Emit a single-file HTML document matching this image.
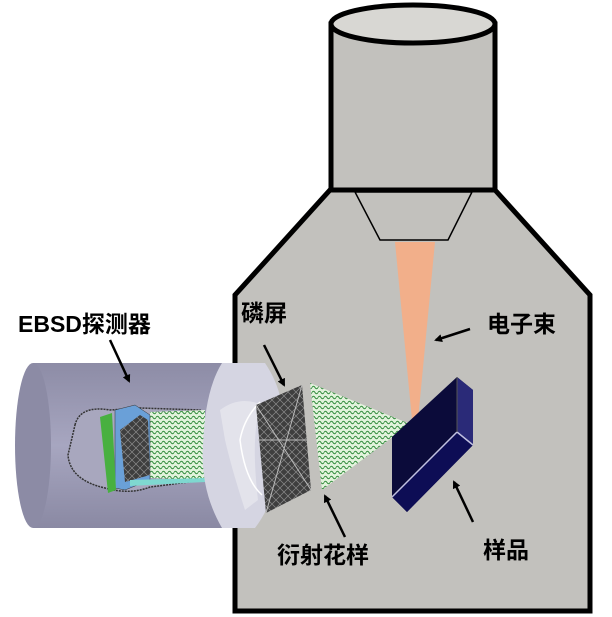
<!DOCTYPE html>
<html><head><meta charset="utf-8"><style>
html,body{margin:0;padding:0;background:#fff;width:612px;height:617px;overflow:hidden}
svg{display:block}
text{font-family:"Liberation Sans","Noto Sans CJK SC",sans-serif;font-weight:bold;fill:#000}
</style></head><body>
<svg width="612" height="617" viewBox="0 0 612 617" xmlns="http://www.w3.org/2000/svg">
<defs>
<pattern id="wave" width="6" height="5" patternUnits="userSpaceOnUse">
<rect width="6" height="5" fill="#e2f3dc"/>
<path d="M0 2.5 Q1.5 0 3 2.5 T6 2.5" stroke="#2f8a3a" stroke-width="1" fill="none"/>
</pattern>
<pattern id="kik" width="8" height="8" patternUnits="userSpaceOnUse">
<rect width="8" height="8" fill="#3e3e3e"/>
<path d="M0 0L8 8M8 0L0 8" stroke="#8a8a8a" stroke-width="0.7"/>
</pattern>
<linearGradient id="cyl" x1="0" y1="0" x2="0" y2="1">
<stop offset="0" stop-color="#8d8ca6"/><stop offset="0.5" stop-color="#a7a6c0"/><stop offset="1" stop-color="#8a89a3"/>
</linearGradient>
<marker id="ah" markerWidth="8" markerHeight="8" refX="6" refY="4" orient="auto" markerUnits="userSpaceOnUse" viewBox="0 0 8 8">
<path d="M0 0L8 4L0 8z" fill="#000"/>
</marker>
</defs>
<path d="M330 190 L495 190 L590 295 L590 611 L235 611 L235 295 Z" fill="#c2c1bd" stroke="#000" stroke-width="5" stroke-linejoin="miter"/>
<rect x="331" y="24" width="164" height="166" fill="#c2c1bd" stroke="#000" stroke-width="5"/>
<ellipse cx="413" cy="24" rx="82" ry="19" fill="#d8d7d3" stroke="#000" stroke-width="5"/>
<path d="M355 192 L472 192 L448 240 L380 240 Z" fill="#c2c1bd" stroke="#000" stroke-width="1.5"/>
<path d="M395 242 L435 242 L418 420 L412 420 Z" fill="#f2af8a"/>
<rect x="33" y="363" width="200" height="165" fill="url(#cyl)"/>
<ellipse cx="33" cy="445.5" rx="18" ry="82.5" fill="#8c8ba5"/>
<path d="M75 425 Q80 405 110 410 L140 408 L200 410 L205 480 L150 487 Q130 495 105 488 Q70 480 68 455 Z" fill="#a8a7be" stroke="#333" stroke-width="1.5" stroke-dasharray="2 1"/>
<path d="M150 412 L205 410 L205 480 L150 478 Z" fill="url(#wave)"/>
<path d="M115 410 L135 405 L150 415 L150 480 L125 490 L115 488 Z" fill="#6aa0d8" stroke="#333" stroke-width="0.5"/>
<path d="M100 417 L112 413 L116 490 L108 493 Z" fill="#48b040"/>
<path d="M120 430 L140 415 L148 420 L150 475 L125 482 Z" fill="url(#kik)"/>
<path d="M130 480 L205 478 L205 482 L130 486 Z" fill="#7fd8d0"/>
<path d="M222 363 L265 363 Q290 400 280 445 Q280 495 255 528 L222 528 Q200 490 203 445 Q205 390 222 363 Z" fill="#d5d5e2"/>
<path d="M220 410 Q240 395 262 405 Q250 430 258 500 L245 510 Q232 470 225 440 Z" fill="#e8e8f0" opacity="0.7"/>
<path d="M260 402 Q244 418 240 440 Q245 480 262 495" stroke="#fff" stroke-width="1.5" fill="none"/>
<path d="M256 405 L302 385 L311 490 L266 513 Z" fill="url(#kik)"/>
<path d="M256 405 L311 490 M302 385 L266 513 M258 440 L308 440" stroke="#bbb" stroke-width="1"/>
<path d="M310 383 L410 424 L322 490 Z" fill="url(#wave)"/>
<path d="M392 437 L457 377 L473 390 L473 445 L407 512 L392 497 Z" fill="#0b0b3a"/>
<path d="M457 377 L473 390 L473 445 L457 432 Z" fill="#2a2a78"/>
<path d="M392 497 L457 432 L473 445 L407 512 Z" fill="#0d0d55"/>
<path d="M392 497 L457 432 L473 445" stroke="#c0c0e0" stroke-width="1.5" fill="none"/>
<path d="M457 377 L457 432" stroke="#555" stroke-width="1"/>
<g stroke="#000" stroke-width="2.5" fill="none" marker-end="url(#ah)">
<line x1="110" y1="340" x2="129" y2="381"/>
<line x1="264" y1="345" x2="284" y2="385"/>
<line x1="470" y1="329" x2="436" y2="340"/>
<line x1="345" y1="537" x2="325" y2="496"/>
<line x1="473" y1="522" x2="454" y2="482"/>
</g>
<text x="18" y="332" font-size="23">EBSD探测器</text>
<text x="241" y="321" font-size="23">磷屏</text>
<text x="487" y="332" font-size="23">电子束</text>
<text x="277" y="563" font-size="23">衍射花样</text>
<text x="483" y="558" font-size="23">样品</text>
</svg>
</body></html>
